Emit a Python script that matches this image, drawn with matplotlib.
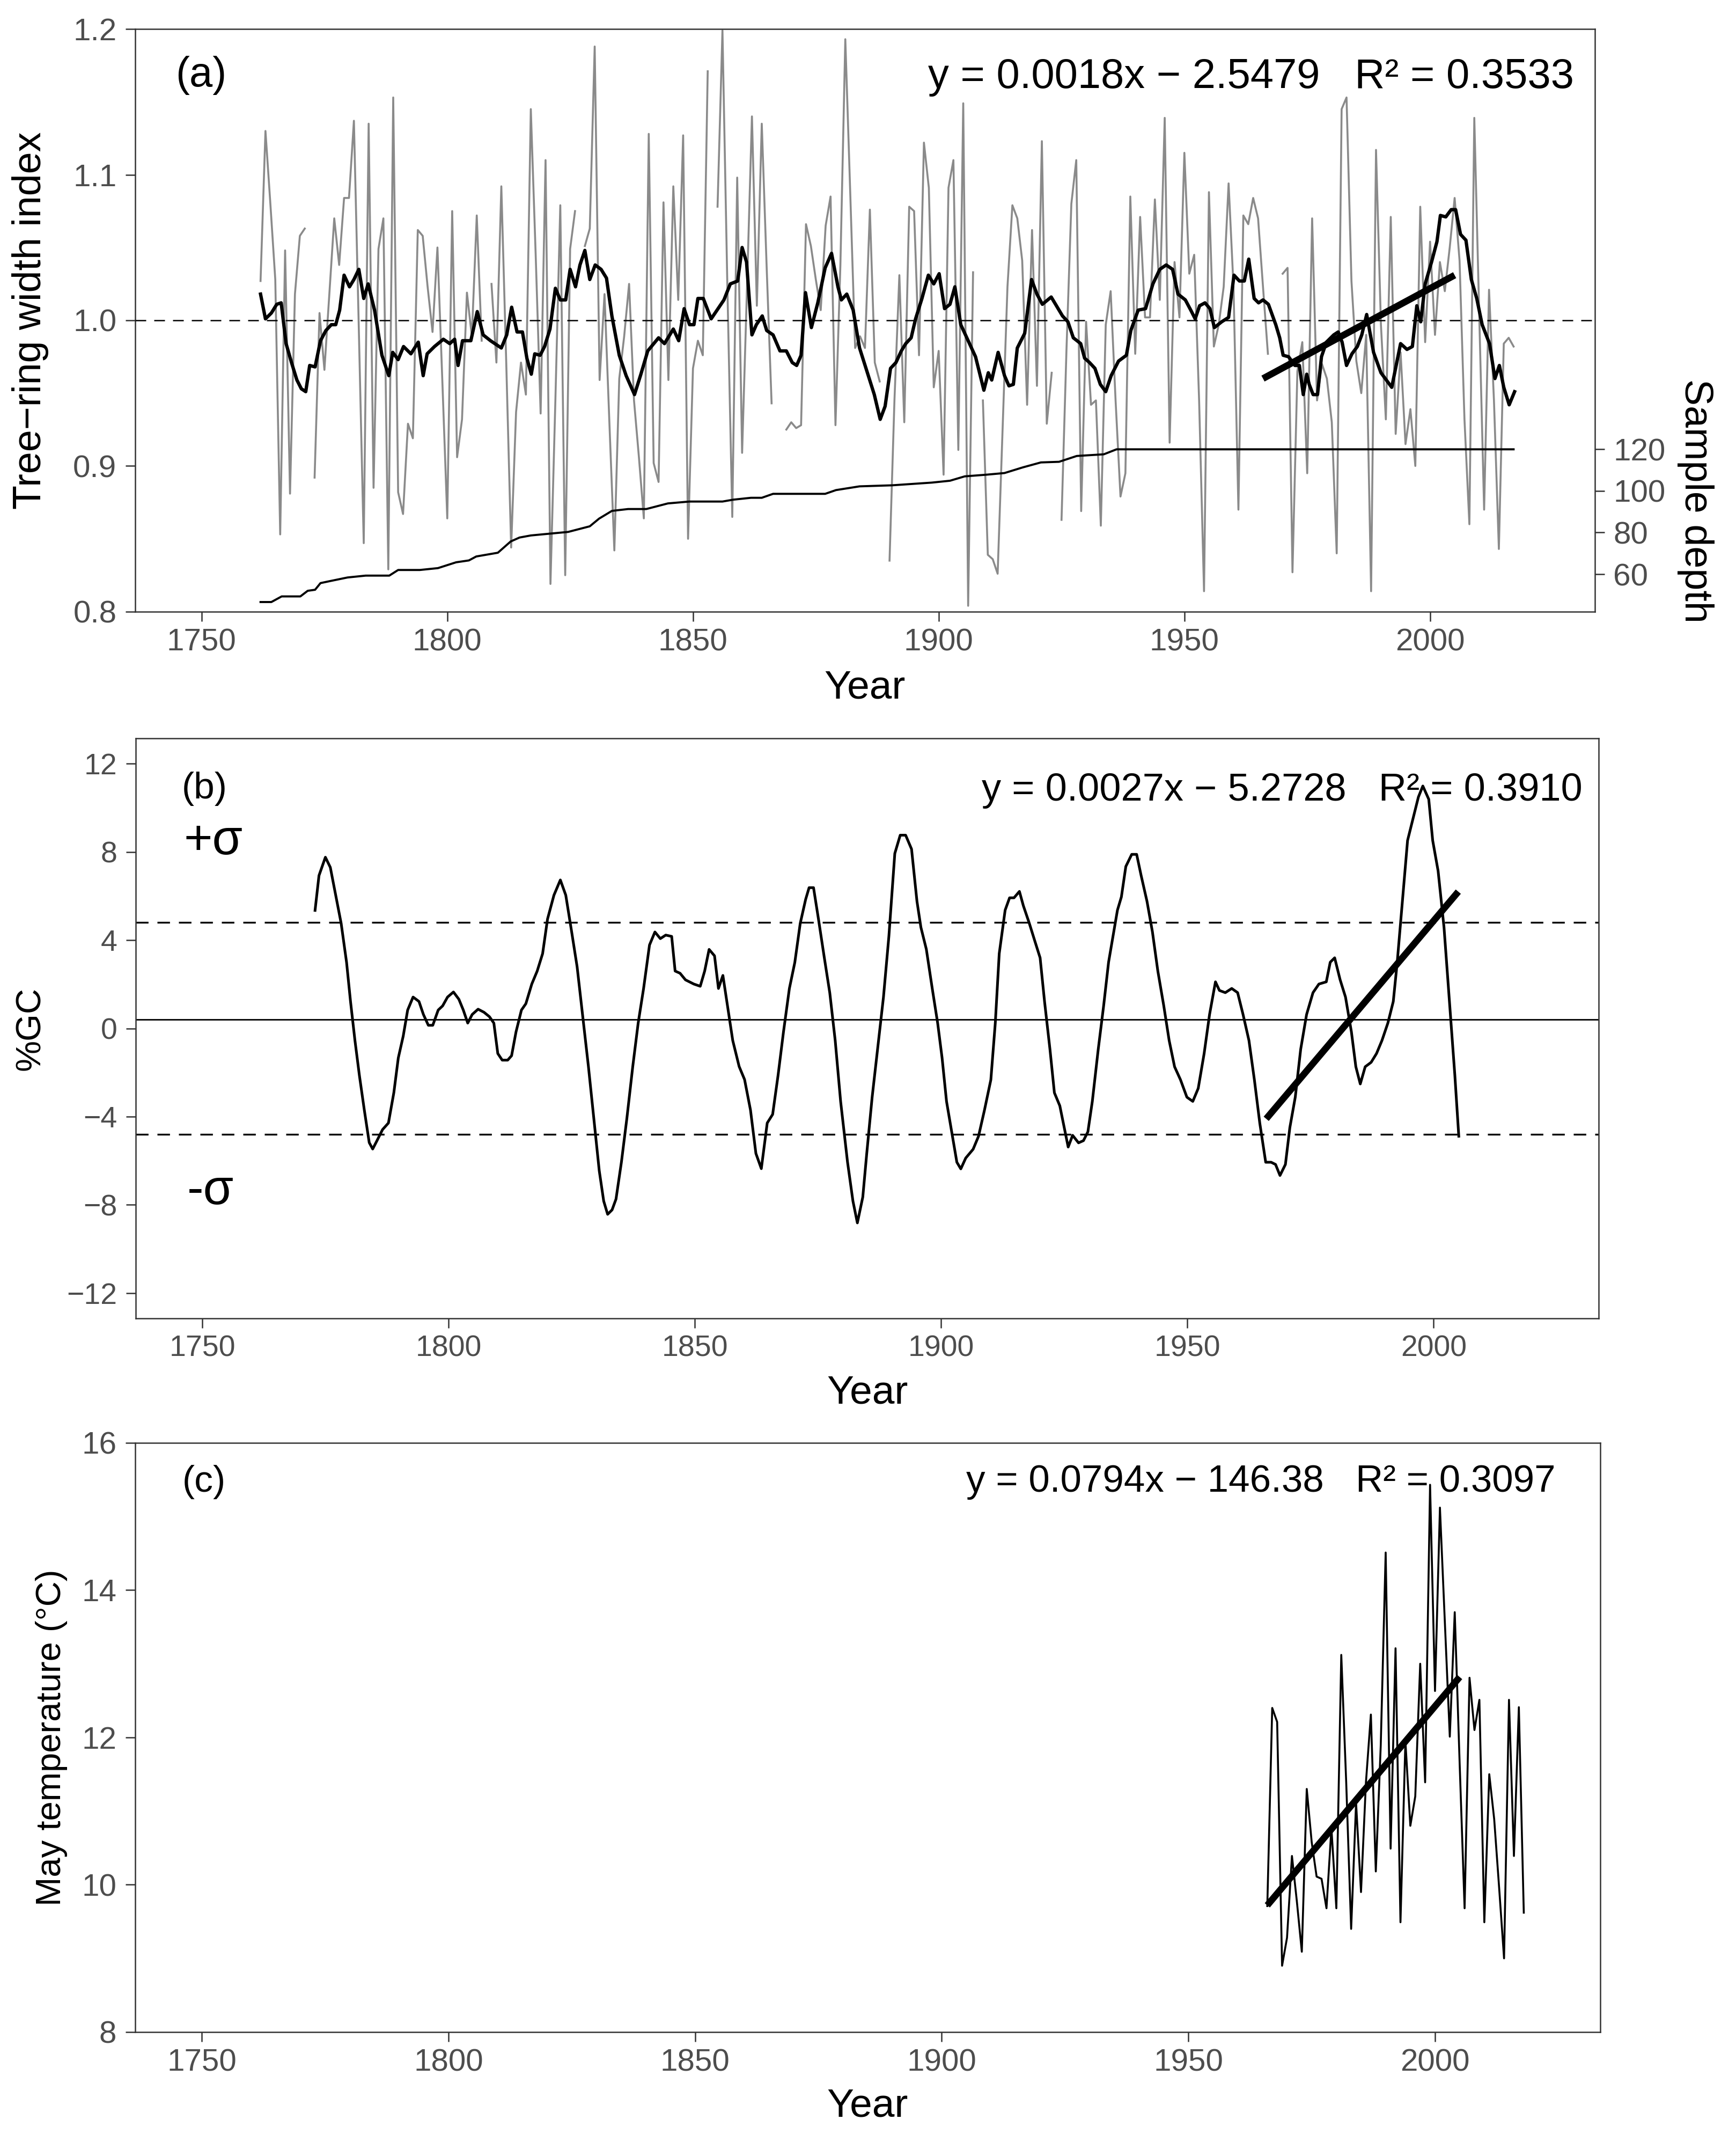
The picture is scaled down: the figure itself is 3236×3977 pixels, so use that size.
import numpy as np
import matplotlib
matplotlib.use("Agg")
import matplotlib.pyplot as plt
from matplotlib import font_manager

nan = np.nan

plt.rcParams['font.family'] = ['Liberation Sans', 'DejaVu Sans']
plt.rcParams['axes.unicode_minus'] = True

# condensed font for panel (b) if there is one
_names = {f.name for f in font_manager.fontManager.ttflist}
narrow = 'Liberation Sans Narrow' if 'Liberation Sans Narrow' in _names else 'Liberation Sans'

# ---------------- (a) tree-ring width index ----------------
rwi_start = 1762
rwi = [
    1.027, 1.130, 1.080, 1.028, 0.853, 1.048, 0.881, 1.018,                  # 1762-1769
    1.058, 1.063, nan, 0.892, 1.005, 0.966, 1.018, 1.070, 1.038, 1.084,      # 1770s
    1.084, 1.137, 0.994, 0.847, 1.135, 0.885, 1.049, 1.070, 0.829, 1.153,   # 1780s
    0.882, 0.867, 0.929, 0.919, 1.062, 1.058, 1.023, 0.992, 1.050, 0.958,   # 1790s
    0.864, 1.075, 0.906, 0.932, 1.019, 0.989, 1.072, 0.986, nan, 1.025,     # 1800s
    0.971, 1.092, 0.971, 0.844, 0.937, 0.971, 0.949, 1.145, 1.044, 0.936,   # 1810s
    1.110, 0.819, 0.945, 1.079, 0.825, 1.049, 1.075, nan, 1.051, 1.063,     # 1820s
    1.188, 0.959, 1.018, 0.929, 0.842, 0.960, 0.989, 1.025, 0.945, 0.906,   # 1830s
    0.864, 1.128, 0.902, 0.889, 1.081, 0.959, 1.092, 1.014, 1.127, 0.850,   # 1840s
    0.967, 0.986, 0.976, 1.171, nan, 1.078, 1.199, 1.023, 0.865, 1.098,     # 1850s
    0.909, 1.023, 1.140, 1.010, 1.135, 1.036, 0.943, nan, nan, 0.925,       # 1860s
    0.930, 0.926, 0.928, 1.066, 1.051, 1.028, 1.007, 1.065, 1.085, 0.928,   # 1870s
    1.038, 1.193, 1.088, 0.981, 0.989, 0.981, 1.076, 0.971, 0.958, nan,     # 1880s
    0.835, 0.945, 1.031, 0.930, 1.078, 1.075, 0.976, 1.122, 1.091, 0.954,   # 1890s
    0.979, 0.894, 1.091, 1.110, 0.911, 1.149, 0.804, 1.033, nan, 0.945,     # 1900s
    0.839, 0.836, 0.826, 0.924, 1.023, 1.079, 1.070, 1.041, 0.942, 1.062,   # 1910s
    0.955, 1.123, 0.929, 0.964, nan, 0.863, 0.979, 1.080, 1.110, 0.869,     # 1920s
    0.999, 0.942, 0.945, 0.859, 0.997, 1.020, 0.945, 0.879, 0.895, 1.085,   # 1930s
    0.977, 1.071, 1.002, 1.002, 1.083, 1.014, 1.139, 0.916, 1.040, 1.002,   # 1940s
    1.115, 1.032, 1.045, 0.945, 0.814, 1.088, 0.982, 0.997, 1.023, 1.094,   # 1950s
    1.023, 0.870, 1.072, 1.066, 1.084, 1.070, 1.023, 0.977, nan, nan,       # 1960s
    1.032, 1.036, 0.827, 0.965, 0.985, 0.895, 1.070, 0.945, 0.970, 0.960,   # 1970s
    0.930, 0.840, 1.145, 1.153, 1.027, 0.972, 0.950, 0.990, 0.814, 1.117,   # 1980s
    0.997, 0.932, 1.071, 0.922, 0.978, 0.915, 0.939, 0.900, 1.078, 0.985,   # 1990s
    1.054, 0.990, 1.040, 1.020, 1.050, 1.084, 1.041, 0.932, 0.860, 1.139,   # 2000s
    1.005, 0.870, 1.021, 0.945, 0.843, 0.984, 0.988, 0.982,                 # 2010-2017
]

smooth_years = [
    1762.0, 1763.0, 1764.2, 1765.3, 1766.2, 1767.2, 1768.3, 1769.4, 1770.3, 1771.2,
    1772.0, 1773.1, 1774.2, 1775.3, 1776.4, 1777.3, 1778.1, 1779.0, 1780.1, 1781.0,
    1782.0, 1783.0, 1783.9, 1785.2, 1786.7, 1788.1, 1788.9, 1790.0, 1791.1, 1792.6,
    1794.1, 1795.1, 1795.9, 1797.4, 1799.2, 1800.5, 1801.5, 1802.2, 1803.1, 1804.8,
    1806.1, 1807.3, 1808.8, 1811.0, 1812.1, 1813.1, 1814.2, 1815.3, 1816.2, 1817.1,
    1817.8, 1818.9, 1819.8, 1820.9, 1822.0, 1823.0, 1824.1, 1825.0, 1826.1, 1827.0,
    1828.0, 1829.0, 1830.1, 1831.3, 1832.4, 1833.5, 1835.0, 1836.4, 1838.1, 1839.4,
    1840.8, 1843.0, 1844.2, 1846.0, 1847.1, 1848.2, 1849.3, 1850.2, 1851.0, 1852.1,
    1853.7, 1856.3, 1857.6, 1859.1, 1860.0, 1860.9, 1862.0, 1862.9, 1864.1, 1865.0,
    1866.3, 1867.7, 1869.0, 1870.2, 1871.1, 1872.0, 1872.9, 1874.1, 1875.4, 1876.9,
    1878.2, 1879.5, 1880.2, 1881.3, 1882.6, 1883.9, 1885.4, 1886.9, 1888.1, 1889.1,
    1890.2, 1891.3, 1892.4, 1893.3, 1894.4, 1895.3, 1896.6, 1897.9, 1899.0, 1900.1,
    1901.2, 1902.3, 1903.3, 1904.5, 1906.0, 1907.5, 1909.2, 1910.1, 1910.8, 1912.1,
    1913.4, 1914.3, 1915.2, 1916.0, 1917.5, 1918.9, 1920.0, 1921.1, 1922.9, 1925.2,
    1926.3, 1927.4, 1928.9, 1929.7, 1930.7, 1931.8, 1932.9, 1934.0, 1935.1, 1936.6,
    1938.2, 1939.1, 1940.6, 1942.1, 1943.6, 1945.0, 1946.3, 1947.6, 1948.7, 1950.2,
    1951.3, 1952.2, 1953.1, 1954.2, 1955.2, 1956.1, 1957.6, 1959.0, 1960.1, 1961.2,
    1962.2, 1963.1, 1964.2, 1965.1, 1966.0, 1967.1, 1968.6, 1969.4, 1970.1, 1971.2,
    1972.5, 1973.4, 1974.2, 1974.9, 1975.4, 1976.2, 1977.1, 1977.9, 1978.9, 1980.4,
    1981.3, 1982.1, 1983.0, 1984.1, 1985.2, 1986.1, 1987.1, 1988.5, 1990.0, 1992.2,
    1994.0, 1995.3, 1996.4, 1997.3, 1998.1, 1999.0, 2000.3, 2001.4, 2002.1, 2003.2,
    2004.3, 2005.2, 2006.2, 2007.3, 2008.4, 2009.5, 2010.6, 2012.1, 2013.2, 2014.1,
    2015.0, 2016.1, 2017.2,
]
smooth_vals = [
    1.018, 1.001, 1.005, 1.011, 1.012, 0.984, 0.971, 0.959, 0.953, 0.951,
    0.969, 0.968, 0.986, 0.993, 0.997, 0.997, 1.007, 1.031, 1.023, 1.028,
    1.035, 1.015, 1.025, 1.007, 0.976, 0.962, 0.978, 0.973, 0.982, 0.977,
    0.985, 0.962, 0.977, 0.982, 0.987, 0.984, 0.987, 0.969, 0.986, 0.986,
    1.006, 0.990, 0.986, 0.981, 0.990, 1.009, 0.992, 0.992, 0.974, 0.963,
    0.977, 0.976, 0.982, 0.994, 1.022, 1.014, 1.014, 1.035, 1.023, 1.038,
    1.048, 1.028, 1.038, 1.035, 1.029, 1.003, 0.976, 0.962, 0.949, 0.963,
    0.979, 0.988, 0.984, 0.994, 0.986, 1.008, 0.997, 0.997, 1.015, 1.015,
    1.001, 1.014, 1.025, 1.027, 1.050, 1.040, 0.990, 0.997, 1.003, 0.993,
    0.990, 0.979, 0.979, 0.971, 0.969, 0.976, 1.019, 0.995, 1.012, 1.036,
    1.046, 1.023, 1.014, 1.018, 1.007, 0.981, 0.965, 0.949, 0.932, 0.941,
    0.967, 0.971, 0.979, 0.984, 0.988, 1.001, 1.015, 1.031, 1.025, 1.032,
    1.008, 1.011, 1.023, 0.997, 0.986, 0.975, 0.952, 0.964, 0.959, 0.978,
    0.962, 0.955, 0.956, 0.981, 0.991, 1.028, 1.018, 1.011, 1.016, 1.003,
    0.999, 0.988, 0.984, 0.974, 0.971, 0.967, 0.956, 0.951, 0.962, 0.972,
    0.976, 0.993, 1.007, 1.008, 1.025, 1.035, 1.038, 1.035, 1.018, 1.014,
    1.007, 1.001, 1.010, 1.012, 1.008, 0.995, 0.999, 1.002, 1.031, 1.027,
    1.027, 1.042, 1.015, 1.012, 1.014, 1.011, 0.997, 0.988, 0.976, 0.975,
    0.969, 0.969, 0.949, 0.963, 0.956, 0.949, 0.949, 0.975, 0.985, 0.990,
    0.992, 0.985, 0.969, 0.977, 0.982, 0.990, 1.004, 0.978, 0.964, 0.954,
    0.984, 0.980, 0.982, 1.010, 0.999, 1.025, 1.040, 1.054, 1.072, 1.071,
    1.076, 1.076, 1.059, 1.055, 1.028, 1.015, 0.997, 0.984, 0.960, 0.969,
    0.954, 0.942, 0.951,
]

depth_years = [1762, 1764.2, 1766.3, 1770.1, 1771.6, 1773.1, 1774.2, 1776, 1779.7, 1783.4,
               1788.2, 1790, 1794.4, 1798.1, 1801.8, 1804.4, 1805.9, 1810.3, 1812.9, 1814.7,
               1817, 1824.6, 1829, 1830.9, 1833.5, 1836.8, 1840.5, 1844.9, 1849.3, 1856,
               1858.2, 1861.8, 1864, 1866.3, 1876.9, 1879.1, 1883.9, 1890.5, 1898.6, 1902.3,
               1905.3, 1909.7, 1913.4, 1917.1, 1920.8, 1924.5, 1928.1, 1933.6, 1936.2, 2017]
depth_vals = [46.6, 46.6, 49.3, 49.3, 52, 52.5, 55.7, 56.6, 58.4, 59.3,
              59.3, 62, 62, 62.9, 65.7, 66.6, 68.5, 70.3, 75.7, 77.6,
              78.6, 80.3, 83, 86.7, 90.4, 91.3, 91.3, 94, 94.9, 94.9,
              95.8, 96.7, 96.7, 98.6, 98.6, 100.4, 102.2, 102.7, 104, 104.9,
              107, 107.8, 108.6, 111.3, 113.7, 114, 116.8, 117.6, 120, 120]

fit_a_years = [1966, 2005]
fit_a_vals = [0.960, 1.031]
eq_a = "y = 0.0018x \u2212 2.5479   R\u00b2 = 0.3533"

# ---------------- (b) percentage growth change ----------------
gc_years = [
    1772.9, 1773.7, 1775.0, 1776.0, 1777.0, 1778.2, 1779.3, 1780.1, 1781.0, 1781.9,
    1782.9, 1783.9, 1784.6, 1785.5, 1786.6, 1787.8, 1788.9, 1789.8, 1790.8, 1791.7,
    1792.8, 1794.0, 1794.9, 1795.9, 1796.8, 1797.9, 1798.8, 1799.8, 1801.0, 1802.1,
    1803.0, 1803.9, 1804.8, 1806.0, 1807.2, 1808.3, 1809.2, 1810.0, 1810.9, 1812.0,
    1812.8, 1813.7, 1814.8, 1815.7, 1816.9, 1818.0, 1819.1, 1820.1, 1821.4, 1822.7,
    1823.8, 1825.0, 1826.1, 1827.2, 1828.4, 1829.5, 1830.6, 1831.5, 1832.3, 1833.2,
    1834.0, 1835.1, 1836.2, 1837.4, 1838.5, 1839.6, 1840.8, 1841.9, 1843.0, 1844.1,
    1845.3, 1846.0, 1847.0, 1848.1, 1849.8, 1851.1, 1852.0, 1852.9, 1854.0, 1854.8,
    1855.7, 1856.5, 1857.7, 1859.0, 1860.1, 1861.3, 1862.4, 1863.5, 1864.7, 1865.8,
    1866.9, 1868.0, 1869.2, 1870.3, 1871.4, 1872.5, 1873.2, 1874.1, 1875.1, 1876.3,
    1877.4, 1878.5, 1879.6, 1881.0, 1882.1, 1883.0, 1884.1, 1884.9, 1886.0, 1887.1,
    1888.3, 1889.4, 1890.6, 1891.7, 1892.8, 1894.0, 1895.1, 1895.9, 1897.0, 1898.2,
    1899.3, 1900.2, 1901.1, 1902.3, 1903.2, 1904.0, 1905.0, 1906.5, 1907.6, 1908.8,
    1910.1, 1911.0, 1911.8, 1913.0, 1913.9, 1914.8, 1915.9, 1916.7, 1917.9, 1919.0,
    1920.1, 1921.0, 1922.1, 1923.0, 1924.1, 1925.0, 1925.8, 1926.7, 1927.9, 1928.9,
    1929.8, 1930.7, 1931.9, 1933.0, 1934.0, 1934.9, 1935.8, 1936.6, 1937.5, 1938.7,
    1939.7, 1940.6, 1941.8, 1942.9, 1944.0, 1945.2, 1946.3, 1947.4, 1948.6, 1949.9,
    1951.1, 1952.2, 1953.4, 1954.5, 1955.7, 1956.5, 1957.7, 1959.0, 1960.2, 1961.3,
    1962.5, 1963.6, 1964.7, 1965.9, 1967.0, 1967.9, 1968.8, 1969.9, 1970.8, 1971.9,
    1973.0, 1974.2, 1975.5, 1976.7, 1978.2, 1979.0, 1979.9, 1981.0, 1982.1, 1983.3,
    1984.2, 1985.1, 1986.1, 1987.3, 1988.4, 1989.5, 1990.7, 1991.8, 1992.6, 1993.5,
    1994.7, 1995.8, 1996.9, 1997.8, 1999.0, 1999.8, 2000.9, 2002.1, 2003.2, 2004.3,
    2005.1,
]
gc_vals = [
    5.35, 6.93, 7.76, 7.30, 6.14, 4.76, 2.99, 1.22, -0.55, -2.13,
    -3.70, -5.18, -5.47, -5.08, -4.59, -4.29, -2.91, -1.34, -0.35, 0.83,
    1.42, 1.22, 0.63, 0.14, 0.14, 0.83, 1.02, 1.42, 1.65, 1.32,
    0.83, 0.24, 0.63, 0.87, 0.73, 0.53, 0.24, -1.14, -1.44, -1.44,
    -1.24, -0.16, 0.83, 1.12, 2.01, 2.60, 3.39, 4.96, 6.04, 6.73,
    6.04, 4.37, 2.80, 0.63, -1.73, -4.09, -6.46, -7.83, -8.43, -8.23,
    -7.74, -6.06, -4.09, -1.73, 0.24, 1.81, 3.78, 4.37, 4.07, 4.23,
    4.17, 2.60, 2.50, 2.20, 2.01, 1.91, 2.60, 3.58, 3.29, 1.81,
    2.40, 1.22, -0.55, -1.73, -2.32, -3.70, -5.67, -6.36, -4.29, -3.90,
    -2.13, -0.16, 1.81, 2.99, 4.76, 5.85, 6.38, 6.38, 4.96, 3.19,
    1.61, -0.55, -3.31, -6.06, -7.83, -8.82, -7.65, -5.68, -3.12, -0.95,
    1.42, 4.18, 7.93, 8.76, 8.76, 8.13, 5.76, 4.58, 3.59, 1.81,
    0.24, -1.34, -3.31, -4.89, -6.07, -6.37, -5.88, -5.48, -4.89, -3.71,
    -2.33, 0.24, 3.39, 5.36, 5.92, 5.92, 6.21, 5.56, 4.77, 3.98,
    3.20, 1.22, -0.95, -2.92, -3.51, -4.50, -5.38, -4.85, -5.19, -5.09,
    -4.69, -3.31, -0.95, 1.03, 3.00, 4.18, 5.36, 5.96, 7.34, 7.89,
    7.89, 6.94, 5.76, 4.38, 2.60, 1.03, -0.55, -1.74, -2.33, -3.12,
    -3.31, -2.72, -1.14, 0.63, 2.11, 1.72, 1.62, 1.81, 1.62, 0.63,
    -0.55, -2.33, -4.30, -6.07, -6.07, -6.17, -6.67, -6.17, -4.50, -3.12,
    -0.95, 0.63, 1.62, 2.01, 2.11, 3.00, 3.20, 2.21, 1.42, -0.16,
    -1.74, -2.52, -1.74, -1.54, -1.14, -0.55, 0.24, 1.22, 3.00, 5.36,
    8.52, 9.51, 10.49, 10.99, 10.39, 8.52, 7.14, 4.58, 1.22, -2.13,
    -4.89,
]
gc_mean = 0.4
gc_sigma = 4.8

fit_b_years = [1966, 2005]
fit_b_vals = [-4.1, 6.2]
eq_b = "y = 0.0027x \u2212 5.2728   R\u00b2 = 0.3910"

# ---------------- (c) May temperature ----------------
temp_start = 1966
temp = [
    9.71, 12.40, 12.21, 8.90, 9.28, 10.39, 9.77, 9.09, 11.30, 10.58,     # 1966-1975
    10.11, 10.08, 9.68, 10.77, 9.68, 13.12, 11.39, 9.40, 11.11, 9.90,    # 1976-1985
    11.39, 12.31, 10.18, 11.89, 14.51, 10.49, 13.21, 9.49, 11.95, 10.80, # 1986-1995
    11.20, 13.00, 11.39, 15.43, 12.63, 15.12, 13.56, 12.01, 13.70, 11.64, # 1996-2005
    9.68, 12.81, 12.10, 12.51, 9.49, 11.50, 10.89, 9.96, 9.00, 12.51,    # 2006-2015
    10.39, 12.41, 9.62,                                                  # 2016-2018
]
fit_c_years = [1966, 2005]
fit_c_vals = [9.72, 12.82]
eq_c = "y = 0.0794x \u2212 146.38   R\u00b2 = 0.3097"

rwi_years = np.arange(rwi_start, rwi_start + len(rwi))
temp_years = np.arange(temp_start, temp_start + len(temp))

year_ticks = [1750, 1800, 1850, 1900, 1950, 2000]
frame_col = '#333333'
tick_lab_col = '#4d4d4d'


def style(ax, labelsize=42, family=None):
    for s in ax.spines.values():
        s.set_color(frame_col)
        s.set_linewidth(1.8)
    ax.tick_params(direction='out', length=13, width=1.8, color=frame_col,
                   labelcolor=tick_lab_col, labelsize=labelsize)
    ax.tick_params(axis='x', pad=9)
    ax.tick_params(axis='y', pad=12)
    ax.set_xlim(1736.5, 2033.5)
    ax.set_xticks(year_ticks)
    if family is not None:
        for lab in ax.get_xticklabels() + ax.get_yticklabels():
            lab.set_family(family)


fig = plt.figure(figsize=(32.36, 39.77), dpi=100)

# ---- panel (a)
ax_a = fig.add_axes([0.0779, 0.7134, 0.8407, 0.2730])
ax_a.plot(rwi_years, rwi, color='#8a8a8a', lw=2.6, zorder=2)
ax_a.axhline(1.0, color='black', lw=1.8, ls=(0, (8, 6)), zorder=3)
ax_a.plot(smooth_years, smooth_vals, color='black', lw=4.5, zorder=4)
ax_a.plot(fit_a_years, fit_a_vals, color='black', lw=9, solid_capstyle='butt', zorder=5)
ax_a.set_ylim(0.8, 1.2)
ax_a.set_yticks([0.8, 0.9, 1.0, 1.1, 1.2])
ax_a.set_yticklabels(['0.8', '0.9', '1.0', '1.1', '1.2'])
style(ax_a)
ax_a.set_ylabel('Tree\u2212ring width index', fontsize=53)
ax_a.yaxis.set_label_coords(-0.072, 0.5)
ax_a.yaxis.label.set_va('center')
ax_a.set_xlabel('Year', fontsize=54)
ax_a.xaxis.set_label_coords(0.5, -0.131)
ax_a.xaxis.label.set_va('center')
ax_a.text(0.045, 0.92, '(a)', transform=ax_a.transAxes, fontsize=56,
          ha='center', va='center')
ax_a.text(0.9857, 0.918, eq_a, transform=ax_a.transAxes, fontsize=56,
          ha='right', va='center')

ax_d = ax_a.twinx()
ax_d.plot(depth_years, depth_vals, color='black', lw=2.8)
ax_d.set_ylim(42, 322)
ax_d.set_yticks([60, 80, 100, 120])
for s in ax_d.spines.values():
    s.set_visible(False)
ax_d.tick_params(axis='y', direction='out', length=13, width=1.8, color=frame_col,
                 labelcolor=tick_lab_col, labelsize=42, pad=12)
ax_d.set_ylabel('Sample depth', fontsize=53, rotation=270)
ax_d.yaxis.set_label_coords(1.069, 0.19)
ax_d.yaxis.label.set_va('center')

# ---- panel (b)
ax_b = fig.add_axes([0.0782, 0.3822, 0.8427, 0.2718])
ax_b.axhline(gc_mean, color='black', lw=2.0, zorder=2)
ax_b.axhline(gc_sigma, color='black', lw=2.4, ls=(0, (7, 5)), zorder=2)
ax_b.axhline(-gc_sigma, color='black', lw=2.4, ls=(0, (7, 5)), zorder=2)
ax_b.plot(gc_years, gc_vals, color='black', lw=3.6, zorder=3)
ax_b.plot(fit_b_years, fit_b_vals, color='black', lw=9, solid_capstyle='butt', zorder=4)
ax_b.set_ylim(-13.15, 13.15)
ax_b.set_yticks([-12, -8, -4, 0, 4, 8, 12])
style(ax_b, labelsize=40, family=narrow)
ax_b.set_ylabel('%GC', fontsize=47, family=narrow)
ax_b.yaxis.set_label_coords(-0.072, 0.5)
ax_b.yaxis.label.set_va('center')
ax_b.set_xlabel('Year', fontsize=54, family=narrow)
ax_b.xaxis.set_label_coords(0.5, -0.129)
ax_b.xaxis.label.set_va('center')
ax_b.text(0.047, 0.913, '(b)', transform=ax_b.transAxes, fontsize=50,
          family=narrow, ha='center', va='center')
ax_b.text(0.053, 0.822, '+\u03c3', transform=ax_b.transAxes, fontsize=66,
          ha='center', va='center')
ax_b.text(0.051, 0.219, '-\u03c3', transform=ax_b.transAxes, fontsize=66,
          ha='center', va='center')
ax_b.text(0.989, 0.91, eq_b, transform=ax_b.transAxes, fontsize=52,
          family=narrow, ha='right', va='center')

# ---- panel (c)
ax_c = fig.add_axes([0.0779, 0.0478, 0.8439, 0.2761])
ax_c.plot(temp_years, temp, color='black', lw=2.6, zorder=2)
ax_c.plot(fit_c_years, fit_c_vals, color='black', lw=9, solid_capstyle='butt', zorder=3)
ax_c.set_ylim(8, 16)
ax_c.set_yticks([8, 10, 12, 14, 16])
style(ax_c)
ax_c.set_ylabel('May temperature (\u00b0C)', fontsize=47)
ax_c.yaxis.set_label_coords(-0.057, 0.5)
ax_c.yaxis.label.set_va('center')
ax_c.set_xlabel('Year', fontsize=54)
ax_c.xaxis.set_label_coords(0.5, -0.126)
ax_c.xaxis.label.set_va('center')
ax_c.text(0.047, 0.933, '(c)', transform=ax_c.transAxes, fontsize=50,
          ha='center', va='center')
ax_c.text(0.9696, 0.933, eq_c, transform=ax_c.transAxes, fontsize=51,
          ha='right', va='center')

fig.savefig('out.png', dpi=100, facecolor='white')
